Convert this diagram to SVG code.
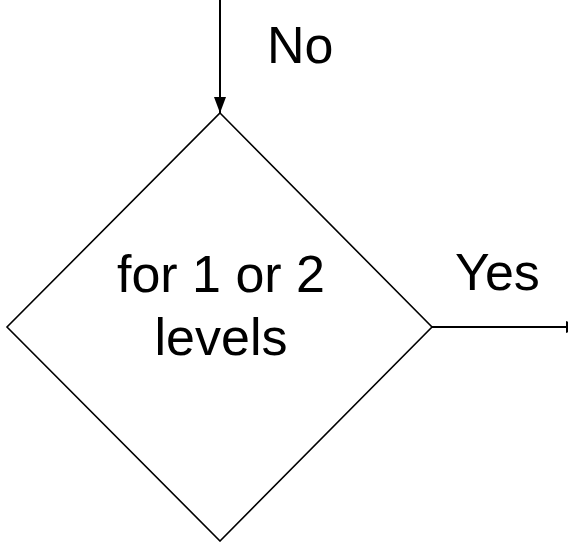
<svg xmlns="http://www.w3.org/2000/svg" width="568" height="542" viewBox="0 0 568 542">
<style>
text{font-family:"Liberation Sans",Arial,sans-serif;font-size:52px;fill:#000}
.ln{stroke:#000;stroke-width:2;fill:none}
</style>
<defs>
<marker id="ah" markerWidth="16" markerHeight="12" refX="16" refY="6" orient="auto" markerUnits="userSpaceOnUse" viewBox="0 0 16 12">
<path d="M0,0 L16,6 L0,12 Z" fill="#000"/>
</marker>
</defs>
<rect width="568" height="542" fill="#fff"/>
<g id="connectors">
<path class="ln" d="M220,0 L220,113" marker-end="url(#ah)"/>
<path class="ln" d="M432,327 L582,327" marker-end="url(#ah)"/>
</g>
<g id="decision">
<polygon points="220,113 432,327 220,541 7,327" fill="#fff" stroke="#000" stroke-width="1.6"/>
<text x="221" y="292" text-anchor="middle">for 1 or 2</text>
<text x="221" y="355" text-anchor="middle">levels</text>
</g>
<g id="labels">
<text x="267" y="63">No</text>
<text x="455" y="290">Yes</text>
</g>
</svg>
